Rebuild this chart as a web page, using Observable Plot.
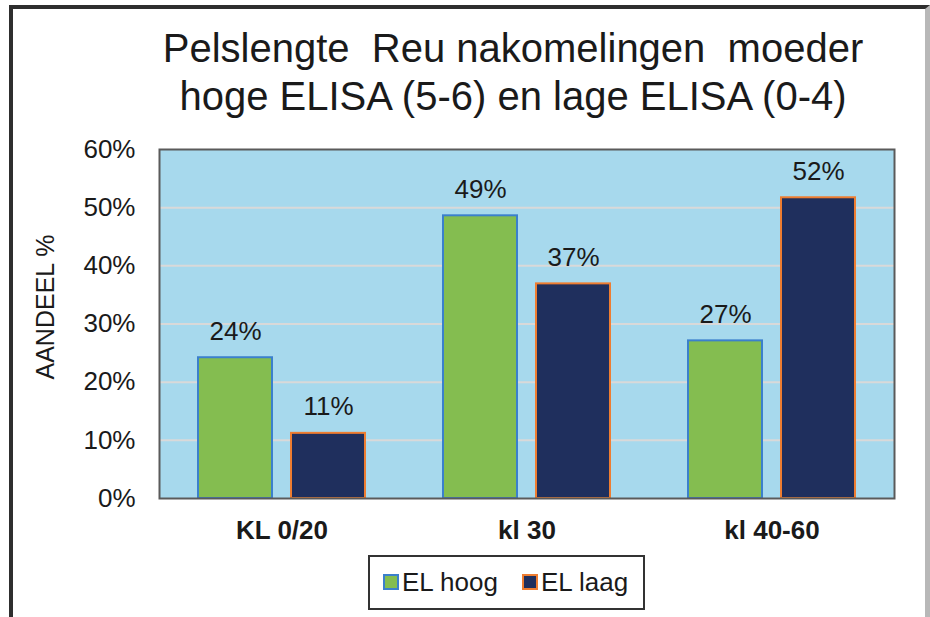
<!DOCTYPE html>
<html>
<head>
<meta charset="utf-8">
<script src="https://cdn.jsdelivr.net/npm/d3@7"></script>
<script src="https://cdn.jsdelivr.net/npm/@observablehq/plot@0.6"></script>
<style>
  html, body { margin: 0; padding: 0; background: #ffffff; overflow: hidden; }
  #wrap { position: relative; width: 930px; height: 617px; overflow: hidden; font-family: "Liberation Sans", Arial, sans-serif; color: #1a1a1a; }
  #frame { position: absolute; left: 9px; top: 5px; width: 912px; height: 700px; border-left: 4px solid #2e2e2e; border-top: 4px solid #2e2e2e; border-right: 5px solid #b8b8b8; }
  #title { position: absolute; left: 100px; width: 826px; top: 24px; text-align: center; font-size: 40px; line-height: 48px; white-space: pre; }
  #chart { position: absolute; left: 0; top: 0; }
  #ylabel { position: absolute; left: 45px; top: 307px; transform: translate(-50%, -50%) rotate(-90deg); font-size: 25px; line-height: 28px; white-space: nowrap; }
  #legend { position: absolute; left: 368px; top: 555px; width: 277px; height: 55px; box-sizing: border-box; border: 2px solid #333; font-size: 26px; }
  .item { position: absolute; top: 10px; line-height: 30px; white-space: nowrap; }
  .sw { display: inline-block; width: 12px; height: 12px; border: 2px solid; vertical-align: middle; margin-right: 3px; position: relative; top: -2px; }
</style>
</head>
<body>
<div id="wrap">
  <div id="frame"></div>
  <div id="chart"></div>
  <div id="title"></div>
  <div id="ylabel"></div>
  <div id="legend"></div>
</div>
<script>
const titleLines = ["Pelslengte  Reu nakomelingen  moeder", "hoge ELISA (5-6) en lage ELISA (0-4)"];
const categories = ["KL 0/20", "kl 30", "kl 40-60"];
const series = ["EL hoog", "EL laag"];
const hoog = [24.2, 48.6, 27.1];
const laag = [11.2, 36.9, 51.7];
const yTicks = [0, 10, 20, 30, 40, 50, 60];
const yLabel = "AANDEEL %";
const fills = ["#84bd50", "#1f2f5d"];
const strokes = ["#3b80cc", "#ee7d31"];

const rows = [];
categories.forEach((c, i) => {
  rows.push({cat: c, series: series[0], value: hoog[i]});
  rows.push({cat: c, series: series[1], value: laag[i]});
});

document.getElementById("title").textContent = titleLines.join("\n");
document.getElementById("ylabel").textContent = yLabel;

const legend = document.getElementById("legend");
const lx = [13, 152];
series.forEach((s, i) => {
  const it = document.createElement("div");
  it.className = "item";
  it.style.left = lx[i] + "px";
  const sw = document.createElement("span");
  sw.className = "sw";
  sw.style.background = fills[i];
  sw.style.borderColor = strokes[i];
  it.appendChild(sw);
  it.appendChild(document.createTextNode(s));
  legend.appendChild(it);
});

const chart = Plot.plot({
  width: 930,
  height: 617,
  marginLeft: 158,
  marginRight: 35,
  marginTop: 149,
  marginBottom: 119,
  style: {fontFamily: "'Liberation Sans', Arial, sans-serif", fontSize: "26px", color: "#1a1a1a", background: "transparent", overflow: "visible"},
  fx: {domain: categories, padding: 0, label: null},
  x: {domain: series, paddingInner: 0.2, paddingOuter: 0.407, axis: null},
  y: {domain: [0, 60], label: null, axis: null},
  color: {domain: series, range: fills},
  marks: [
    Plot.frame({facet: "super", fill: "#a7d9ed", stroke: null}),
    Plot.gridY(yTicks.filter(t => t > 0 && t < 60), {stroke: "#d9d9d9", strokeWidth: 2, strokeOpacity: 1}),
    Plot.barY(rows, {fx: "cat", x: "series", y: "value", fill: "series",
      stroke: d => strokes[series.indexOf(d.series)], strokeWidth: 2}),
    Plot.text(rows, {fx: "cat", x: "series", y: "value", text: d => Math.round(d.value) + "%",
      lineAnchor: "bottom", dy: -18, fontSize: 26, fill: "#1a1a1a"}),
    Plot.frame({facet: "super", stroke: "#5a5a5a", strokeWidth: 2}),
    Plot.axisY(yTicks, {tickSize: 0, tickPadding: 24, tickFormat: d => d + "%", fontSize: 26, label: null}),
    Plot.axisFx({anchor: "bottom", tickSize: 0, tickPadding: 22, fontWeight: "bold", fontSize: 26, label: null})
  ]
});
document.getElementById("chart").appendChild(chart);
</script>
</body>
</html>
